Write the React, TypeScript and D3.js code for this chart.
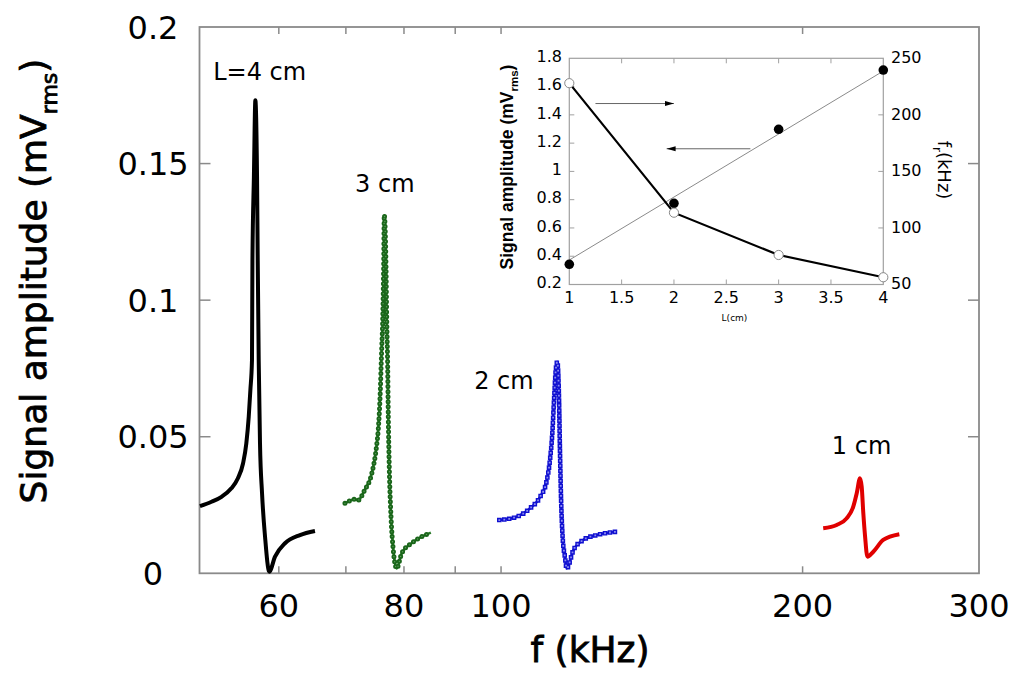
import * as d3 from "d3"

// resonance curves, one per sensor length L (f in kHz, amplitude in mVrms)
const freqL4 = [50.05, 51.4, 52.6, 53.8, 54.6, 55.26, 55.68, 55.99, 56.2, 56.41, 56.47, 56.66, 56.85, 57.07, 57.16, 57.29, 57.46, 57.73, 58.13, 58.7, 59.48, 60.86, 62.99, 65.2]
const ampL4 = [0.0246, 0.0262, 0.028, 0.0311, 0.0347, 0.0402, 0.0475, 0.0573, 0.067, 0.078, 0.1146, 0.1451, 0.1732, 0.1451, 0.1146, 0.078, 0.0476, 0.0293, 0.0134, 0.0006, 0.0061, 0.011, 0.014, 0.0155]

const freqL3 = [69.85, 71.5, 72.0, 73.1, 74.3, 75.1, 75.4, 75.7, 76.0, 76.2, 76.35, 76.46, 76.76, 76.88, 77.06, 77.17, 77.34, 77.65, 78.06, 78.67, 79.58, 81.42, 83.32, 85.1]
const ampL3 = [0.0256, 0.0271, 0.0268, 0.0305, 0.0366, 0.0463, 0.0524, 0.0634, 0.0817, 0.0939, 0.1122, 0.1311, 0.1122, 0.0939, 0.0756, 0.0573, 0.039, 0.0207, 0.0085, 0.0018, 0.0073, 0.011, 0.0134, 0.0149]

const freqL2 = [99.6, 103.7, 106.9, 109.4, 111.1, 111.9, 112.5, 112.95, 113.4, 113.8, 114.26, 114.5, 114.8, 115.2, 115.8, 116.3, 118.1, 120.8, 124.6, 130.3]
const ampL2 = [0.0195, 0.0207, 0.0238, 0.028, 0.0341, 0.0415, 0.0512, 0.0634, 0.0744, 0.0774, 0.0634, 0.0451, 0.0268, 0.0134, 0.0061, 0.0018, 0.0085, 0.0122, 0.014, 0.0152]

const freqL1 = [209.7, 216.3, 221.3, 224.7, 226.5, 228.2, 229.1, 229.95, 230.9, 232.1, 235.3, 240.7, 249.8]
const ampL1 = [0.0165, 0.0177, 0.0201, 0.0244, 0.0293, 0.0348, 0.0317, 0.022, 0.0134, 0.0061, 0.0079, 0.0122, 0.0143]

// curve labels, anchored in data units (left edge / baseline)
const curveLabels = ["L=4 cm", "3 cm", "2 cm", "1 cm"]
const curveLabelFreq = [51.6, 71.5, 94.0, 213.9]
const curveLabelAmp = [0.1806, 0.1395, 0.0675, 0.0436]

// main axes
const mainXTicks = [60, 70, 80, 90, 100, 200]
const mainXLabels = [60, 80, 100, 200, 300]
const mainYTicks = [0.05, 0.1, 0.15]
const mainYLabels = [0, 0.05, 0.1, 0.15, 0.2]

// inset: resonance frequency and amplitude vs length
const insetLength = [1, 2, 3, 4]
const insetFreq = [228, 113.5, 76.1, 56.4]
const insetAmp = [0.343, 0.774, 1.298, 1.717]
const insetFitLength = [1, 4]
const insetFitAmp = [0.373, 1.71]
const insetXTicks = [1, 1.5, 2, 2.5, 3, 3.5, 4]
const insetYTicks = [0.2, 0.4, 0.6, 0.8, 1, 1.2, 1.4, 1.6, 1.8]
const insetY2Ticks = [50, 100, 150, 200, 250]
const arrowFromL = [1.25, 2.73]
const arrowToL = [2.0, 1.93]
const arrowAmp = [1.48, 1.16]

const FONT = "DejaVu Sans"

export default function App() {
  const x = d3.scaleLog().domain([50, 300]).range([199.5, 979])
  const y = d3.scaleLinear().domain([0, 0.2]).range([573.3, 27])

  const ix = d3.scaleLinear().domain([1, 4]).range([569.3, 883.3])
  const iy = d3.scaleLinear().domain([0.2, 1.8]).range([284.5, 58.3])
  const iy2 = d3.scaleLinear().domain([50, 250]).range([284.5, 58.3])

  const curve = (f: number[], a: number[]) =>
    d3
      .line<number>()
      .x((_, i) => x(f[i]))
      .y((d) => y(d))
      .curve(d3.curveMonotoneX)(a) as string

  const [x0, x1] = x.range()
  const [y0, y1] = y.range()
  const [ix0, ix1] = ix.range()
  const [iy0, iy1] = iy.range()

  const pathL4 = curve(freqL4, ampL4)
  const pathL3 = curve(freqL3, ampL3)
  const pathL2 = curve(freqL2, ampL2)
  const pathL1 = curve(freqL1, ampL1)

  const freqLine = d3
    .line<number>()
    .x((_, i) => ix(insetLength[i]))
    .y((d) => iy2(d))(insetFreq) as string
  const fitLine = d3
    .line<number>()
    .x((_, i) => ix(insetFitLength[i]))
    .y((d) => iy(d))(insetFitAmp) as string

  return (
    <svg width={1024} height={684} style={{ position: "absolute", left: 0, top: 0, background: "#fff" }} fontFamily={FONT}>
      <defs>
        <marker id="head" markerUnits="userSpaceOnUse" markerWidth={10} markerHeight={6} refX={9} refY={3} orient="auto">
          <path d="M0,0.5 L9,3 L0,5.5 z" fill="#000" />
        </marker>
      </defs>

      {/* main frame */}
      <rect x={x0} y={y1} width={x1 - x0} height={y0 - y1} fill="none" stroke="#8a8a8a" strokeWidth={1.8} />
      {mainXTicks.map((t) => (
        <g key={"xt" + t} stroke="#8a8a8a" strokeWidth={1.5}>
          <line x1={x(t)} x2={x(t)} y1={y0} y2={y0 - 7} />
          <line x1={x(t)} x2={x(t)} y1={y1} y2={y1 + 7} />
        </g>
      ))}
      {mainYTicks.map((t) => (
        <g key={"yt" + t} stroke="#8a8a8a" strokeWidth={1.5}>
          <line x1={x0} x2={x0 + 11} y1={y(t)} y2={y(t)} />
          <line x1={x1} x2={x1 - 11} y1={y(t)} y2={y(t)} />
        </g>
      ))}
      {mainXLabels.map((t) => (
        <text key={"xl" + t} x={x(t)} y={617} textAnchor="middle" fontSize={32}>
          {t}
        </text>
      ))}
      {mainYLabels.map((t) => (
        <text key={"yl" + t} x={153} y={y(t)} dy="0.36em" textAnchor="middle" fontSize={32}>
          {t}
        </text>
      ))}

      <text x={590} y={662} textAnchor="middle" fontSize={36} stroke="#000" strokeWidth={0.8}>
        f (kHz)
      </text>
      <text transform="translate(46,281) rotate(-90)" textAnchor="middle" fontSize={36} stroke="#000" strokeWidth={0.8}>
        Signal amplitude (mV
        <tspan dy={11} fontSize={22}>
          rms
        </tspan>
        <tspan dy={-11}>)</tspan>
      </text>

      {/* L = 4 cm */}
      <path d={pathL4} fill="none" stroke="#000" strokeWidth={4} strokeLinejoin="round" />

      {/* L = 3 cm, circle markers */}
      <path d={pathL3} fill="none" stroke="#2a7a2a" strokeWidth={2.6} />
      <path d={pathL3} fill="none" stroke="#1a661a" strokeWidth={5} strokeLinecap="round" strokeDasharray="0 5" />
      <path d={pathL3} fill="none" stroke="#5c9c5c" strokeWidth={1.4} strokeLinecap="round" strokeDasharray="0 5" />

      {/* L = 2 cm, square markers */}
      <path d={pathL2} fill="none" stroke="#1a1ad8" strokeWidth={2.6} />
      <path d={pathL2} fill="none" stroke="#1010d0" strokeWidth={4.6} strokeLinecap="square" strokeDasharray="0 5" />
      <path d={pathL2} fill="none" stroke="#8c8cf0" strokeWidth={1.8} strokeLinecap="square" strokeDasharray="0 5" />

      {/* L = 1 cm */}
      <path d={pathL1} fill="none" stroke="#e00000" strokeWidth={4} strokeLinejoin="round" />

      {curveLabels.map((s, i) => (
        <text key={s} x={x(curveLabelFreq[i])} y={y(curveLabelAmp[i])} fontSize={24}>
          {s}
        </text>
      ))}

      {/* inset */}
      <rect x={ix0} y={iy1} width={ix1 - ix0} height={iy0 - iy1} fill="#fff" stroke="#a0a0a0" strokeWidth={1.2} />
      {insetXTicks.slice(1, -1).map((t) => (
        <g key={"ixt" + t} stroke="#a0a0a0" strokeWidth={1}>
          <line x1={ix(t)} x2={ix(t)} y1={iy0} y2={iy0 - 5} />
          <line x1={ix(t)} x2={ix(t)} y1={iy1} y2={iy1 + 5} />
        </g>
      ))}
      {insetYTicks.slice(1, -1).map((t) => (
        <line key={"iyt" + t} x1={ix0} x2={ix0 + 5} y1={iy(t)} y2={iy(t)} stroke="#a0a0a0" strokeWidth={1} />
      ))}
      {insetY2Ticks.slice(1, -1).map((t) => (
        <line key={"iy2t" + t} x1={ix1} x2={ix1 - 5} y1={iy2(t)} y2={iy2(t)} stroke="#a0a0a0" strokeWidth={1} />
      ))}
      {insetXTicks.map((t) => (
        <text key={"ixl" + t} x={ix(t)} y={303} textAnchor="middle" fontSize={16}>
          {t}
        </text>
      ))}
      {insetYTicks.map((t) => (
        <text key={"iyl" + t} x={562} y={iy(t) - 2} dy="0.36em" textAnchor="end" fontSize={16}>
          {t}
        </text>
      ))}
      {insetY2Ticks.map((t) => (
        <text key={"iy2l" + t} x={891} y={iy2(t) - 1} dy="0.36em" textAnchor="start" fontSize={16}>
          {t}
        </text>
      ))}
      <text x={734.5} y={321} textAnchor="middle" fontSize={9}>
        L(cm)
      </text>
      <text transform="translate(513,167) rotate(-90)" textAnchor="middle" fontSize={17.5} fontWeight="bold" fontFamily="Liberation Sans">
        Signal amplitude (mV
        <tspan dy={5} fontSize={11.5}>
          rms
        </tspan>
        <tspan dy={-5}>)</tspan>
      </text>
      <text transform="translate(938,170) rotate(90)" textAnchor="middle" fontSize={18}>
        f
        <tspan dy={5} fontSize={12}>
          r
        </tspan>
        <tspan dy={-5}>(kHz)</tspan>
      </text>

      <path d={fitLine} fill="none" stroke="#8a8a8a" strokeWidth={1} />
      <path d={freqLine} fill="none" stroke="#000" strokeWidth={2.2} />
      {insetLength.map((L, i) => (
        <circle key={"fc" + L} cx={ix(L)} cy={iy(insetAmp[i])} r={4.8} fill="#000" />
      ))}
      {insetLength.map((L, i) => (
        <circle key={"oc" + L} cx={ix(L)} cy={iy2(insetFreq[i])} r={4.6} fill="#fff" stroke="#888" strokeWidth={1} />
      ))}
      {arrowFromL.map((L, i) => (
        <line
          key={"ar" + i}
          x1={ix(L)}
          x2={ix(arrowToL[i])}
          y1={iy(arrowAmp[i])}
          y2={iy(arrowAmp[i])}
          stroke="#666"
          strokeWidth={1}
          markerEnd="url(#head)"
        />
      ))}
    </svg>
  )
}
